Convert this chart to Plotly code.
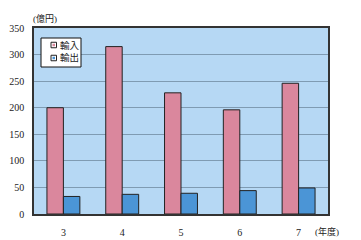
import plotly.graph_objects as go

years = ["3", "4", "5", "6", "7"]
imports = [200, 315, 228, 196, 246]
exports = [33, 37, 39, 44, 49]
y_ticks = [0, 50, 100, 150, 200, 250, 300, 350]
series_names = ["輸入", "輸出"]
series_colors = ["#da879d", "#4b95d6"]

FONT = "'Liberation Serif', 'Noto Sans CJK JP', serif"

L, R, T, B = 34, 33, 28, 26
W, H = 361, 240
pw = W - L - R
ph = H - T - B


def px(x):
    return (x - L) / pw


def py(y):
    return (H - B - y) / ph


fig = go.Figure()
for name, vals, col in zip(series_names, [imports, exports], series_colors):
    fig.add_trace(go.Bar(x=years, y=vals, name=name,
                         marker=dict(color=col, line=dict(color="#222", width=1))))

shapes = [
    dict(type="rect", xref="paper", yref="paper",
         x0=px(41), x1=px(81), y0=py(67), y1=py(38),
         fillcolor="white", line=dict(color="#111", width=1), layer="above"),
]
annotations = []
for i, (name, col) in enumerate(zip(series_names, series_colors)):
    cy = 45 + 13 * i
    shapes.append(dict(type="rect", xref="paper", yref="paper",
                       x0=px(51), x1=px(56.5), y0=py(cy + 2.75), y1=py(cy - 2.75),
                       fillcolor="white", line=dict(color="#222", width=1), layer="above"))
    shapes.append(dict(type="rect", xref="paper", yref="paper",
                       x0=px(52.5), x1=px(55), y0=py(cy + 1.25), y1=py(cy - 1.25),
                       fillcolor=col, line=dict(width=0), layer="above"))
    annotations.append(dict(text=name, xref="paper", yref="paper",
                            x=px(58), y=py(cy), xanchor="left", yanchor="middle",
                            showarrow=False, font=dict(size=9.5, family=FONT)))

annotations += [
    dict(text="(億円)", xref="paper", yref="paper",
         x=px(45), y=py(18), xanchor="center", yanchor="middle",
         showarrow=False, font=dict(size=9, family=FONT)),
    dict(text="(年度)", xref="paper", yref="paper",
         x=px(327), y=py(232), xanchor="center", yanchor="middle",
         showarrow=False, font=dict(size=9, family=FONT)),
]

fig.update_layout(
    width=W, height=H,
    margin=dict(l=L, r=R, t=T, b=B, autoexpand=False),
    paper_bgcolor="white",
    plot_bgcolor="#b6d8f4",
    barmode="group",
    bargap=0.44,
    bargroupgap=0,
    font=dict(family=FONT, size=10, color="#222"),
    showlegend=False,
    xaxis=dict(showgrid=False, showline=True, linecolor="#333", linewidth=1.5,
               mirror=True, ticks="", ticklabelstandoff=8, automargin=False,
               tickfont=dict(size=10, family=FONT)),
    yaxis=dict(range=[0, 350], tickvals=y_ticks, showgrid=True,
               gridcolor="#7f9bb2", gridwidth=1, showline=True,
               linecolor="#333", linewidth=1.5, mirror=True, ticks="",
               zeroline=False, tickfont=dict(size=10, family=FONT),
               ticklabelstandoff=6, automargin=False),
    shapes=shapes,
    annotations=annotations,
)

fig.write_html("out.html")
